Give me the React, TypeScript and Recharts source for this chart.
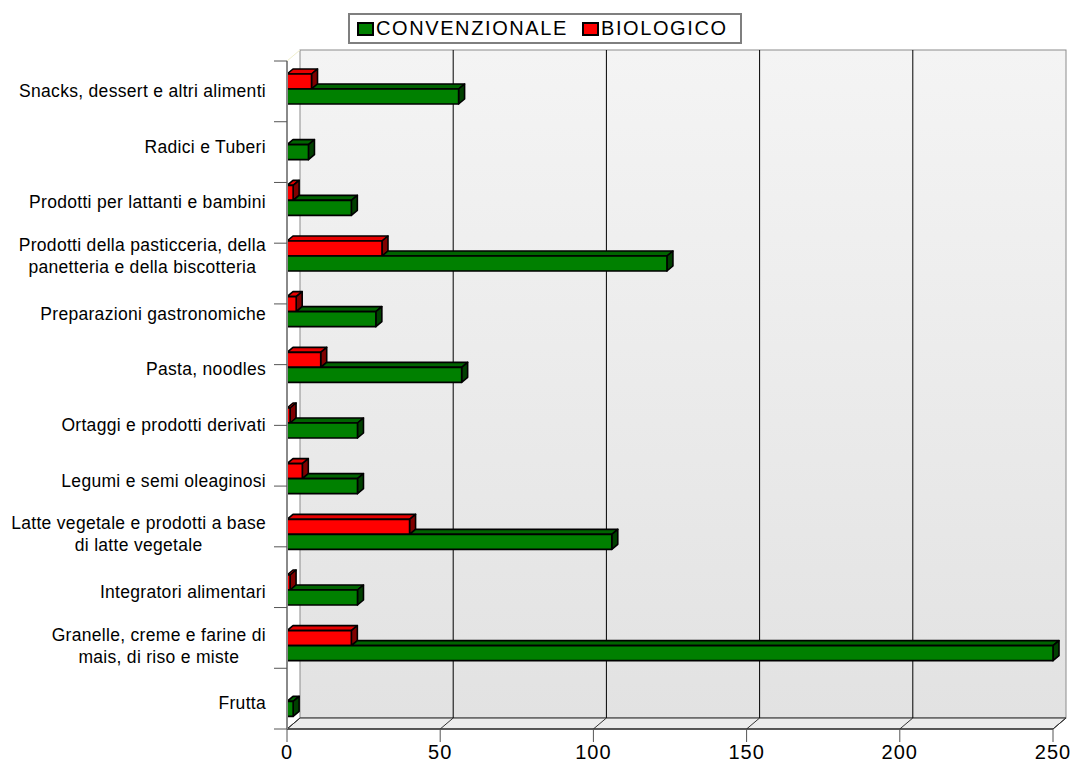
import React from "react";
import { Bar, BarChart, Legend, ReferenceArea, ReferenceLine, XAxis, YAxis } from "recharts";

const categories = [
  "Snacks, dessert e altri alimenti",
  "Radici e Tuberi",
  "Prodotti per lattanti e bambini",
  "Prodotti della pasticceria, della\npanetteria e della biscotteria",
  "Preparazioni gastronomiche",
  "Pasta, noodles",
  "Ortaggi e prodotti derivati",
  "Legumi e semi oleaginosi",
  "Latte vegetale e prodotti a base\ndi latte vegetale",
  "Integratori alimentari",
  "Granelle, creme e farine di\nmais, di riso e miste",
  "Frutta",
];
const convenzionale = [56, 7, 21, 124, 29, 57, 23, 23, 106, 23, 250, 2];
const biologico = [8, 0, 2, 31, 3, 11, 1, 5, 40, 1, 21, 0];
const valueTicks = [0, 50, 100, 150, 200, 250];
const bandEdges = [0, 1, 2, 3, 4, 5, 6, 7, 8, 9, 10, 11, 12];

const data = categories.map((name, i) => ({
  name,
  convenzionale: convenzionale[i],
  biologico: biologico[i],
}));

const FONT = "'Liberation Sans', Arial, sans-serif";
const LABEL_SPACING = 0.3;
const WALL_DX = 13;
const WALL_DY = 11;
const BAR_DX = 6;
const BAR_DY = 5;

let measureCtx: CanvasRenderingContext2D | null = null;
function textWidth(s: string, font: string) {
  if (!measureCtx) measureCtx = document.createElement("canvas").getContext("2d");
  if (!measureCtx) return s.length * 8;
  measureCtx.font = font;
  return measureCtx.measureText(s).width + s.length * LABEL_SPACING;
}

function CategoryTick({ x, y, payload }: any) {
  const lines = String(payload.value).split("\n");
  const maxW = Math.max(...lines.map((l) => textWidth(l, `17.5px ${FONT}`)));
  const cx = x - maxW / 2;
  const lh = 22;
  const y0 = y - ((lines.length - 1) * lh) / 2 + (lines.length === 1 ? 2 : 0);
  return (
    <text fontFamily={FONT} fontSize={17.5} fill="#000" textAnchor="middle" letterSpacing={LABEL_SPACING}>
      {lines.map((l, i) => (
        <tspan key={i} x={cx} y={y0 + i * lh} dy="0.35em">
          {l}
        </tspan>
      ))}
    </text>
  );
}

function Walls({ x, y, width, height }: any) {
  const bx = x + WALL_DX;
  const by = y - WALL_DY;
  const bottom = y + height;
  return (
    <g>
      <defs>
        <linearGradient id="wallFill" x1="0" y1="0" x2="0" y2="1">
          <stop offset="0" stopColor="#f4f4f4" />
          <stop offset="1" stopColor="#e2e2e2" />
        </linearGradient>
      </defs>
      <rect x={bx} y={by} width={width} height={height} fill="url(#wallFill)" stroke="#8c8c8c" />
      <polygon
        points={`${x},${bottom} ${bx},${bottom - WALL_DY} ${bx + width},${bottom - WALL_DY} ${x + width},${bottom}`}
        fill="#ececec"
        stroke="#222"
      />
      <line x1={x} y1={y} x2={bx} y2={by} stroke="#f0eecc" />
    </g>
  );
}

function GridLine({ x1, y1, y2, inner }: any) {
  const top = Math.min(y1, y2);
  const bottom = Math.max(y1, y2);
  return (
    <g>
      {inner && (
        <line x1={x1 + WALL_DX} y1={top - WALL_DY} x2={x1 + WALL_DX} y2={bottom - WALL_DY} stroke="#000" />
      )}
      <line x1={x1} y1={bottom} x2={x1 + WALL_DX} y2={bottom - WALL_DY} stroke="#333" />
    </g>
  );
}

function Bar3D({ x, y, width, height, front, topC, side, trimKey, payload }: any) {
  if (!width || width <= 0) return null;
  const r = x + width;
  let tx = x;
  if (trimKey && payload && payload.convenzionale > 0) {
    // part of the top face hidden behind the bar above
    tx = x + (payload[trimKey] * width) / payload.convenzionale;
  }
  return (
    <g stroke="#000" strokeWidth={1.6} strokeLinejoin="round">
      {tx < r && (
        <polygon
          points={`${tx},${y} ${tx + BAR_DX},${y - BAR_DY} ${r + BAR_DX},${y - BAR_DY} ${r},${y}`}
          fill={topC}
        />
      )}
      <polygon
        points={`${r},${y} ${r + BAR_DX},${y - BAR_DY} ${r + BAR_DX},${y + height - BAR_DY} ${r},${y + height}`}
        fill={side}
      />
      <rect x={x} y={y} width={width} height={height} fill={front} />
    </g>
  );
}

function LegendBox({ payload }: any) {
  const items = (payload || []).slice().reverse();
  return (
    <div
      style={{
        boxSizing: "border-box",
        width: 394,
        height: 31,
        border: "2px solid #7f7f7f",
        background: "#fff",
        display: "flex",
        alignItems: "center",
        paddingLeft: 7,
        fontFamily: FONT,
        fontSize: 20,
        letterSpacing: 1.6,
        color: "#000",
      }}
    >
      {items.map((it: any) => (
        <div key={it.value} style={{ display: "flex", alignItems: "center", marginRight: 14 }}>
          <span
            style={{
              display: "inline-block",
              width: 13,
              height: 10,
              background: it.color,
              border: "2px solid #000",
              marginRight: 2,
            }}
          />
          <span>{it.value}</span>
        </div>
      ))}
    </div>
  );
}

export default function App() {
  return (
    <div style={{ position: "absolute", left: 0, top: 0, background: "#fff" }}>
      <BarChart
        width={1073}
        height={771}
        data={data}
        layout="vertical"
        margin={{ top: 61, right: 20, bottom: 0, left: 0 }}
        barGap={0}
        barSize={15}
      >
        <XAxis
          type="number"
          domain={[0, 250]}
          ticks={valueTicks}
          interval={0}
          height={42}
          axisLine={{ stroke: "#222" }}
          tickLine={{ stroke: "#555" }}
          tickSize={13}
          tickMargin={3}
          tick={{ fill: "#000", fontSize: 20, fontFamily: FONT, letterSpacing: 1 }}
        />
        <YAxis
          yAxisId="a_edges"
          type="number"
          domain={[0, 12]}
          ticks={bandEdges}
          interval={0}
          width={1}
          tick={() => <g />}
          tickSize={13}
          axisLine={{ stroke: "#8a8a8a", strokeWidth: 2 }}
          tickLine={{ stroke: "#555" }}
        />
        <YAxis
          yAxisId="cat"
          type="category"
          dataKey="name"
          width={286}
          axisLine={false}
          tickLine={false}
          tickSize={0}
          tickMargin={20}
          interval={0}
          tick={<CategoryTick />}
        />
        <ReferenceArea yAxisId="cat" x1={0} x2={250} shape={<Walls />} zIndex={-100} />
        {valueTicks.map((v) => (
          <ReferenceLine
            key={v}
            yAxisId="cat"
            x={v}
            zIndex={-90}
            shape={(p: any) => <GridLine {...p} inner={v > 0 && v < 250} />}
          />
        ))}
        <Legend
          layout="vertical"
          align="center"
          verticalAlign="middle"
          wrapperStyle={{ top: 13, left: 348, width: 394 }}
          content={<LegendBox />}
        />
        <Bar
          yAxisId="cat"
          dataKey="biologico"
          name="BIOLOGICO"
          fill="#ff0000"
          isAnimationActive={false}
          shape={(p: any) => <Bar3D {...p} front="#ff0000" topC="#e60000" side="#800000" />}
        />
        <Bar
          yAxisId="cat"
          dataKey="convenzionale"
          name="CONVENZIONALE"
          fill="#008000"
          isAnimationActive={false}
          shape={(p: any) => <Bar3D {...p} front="#008000" topC="#006400" side="#004000" trimKey="biologico" />}
        />
      </BarChart>
    </div>
  );
}
